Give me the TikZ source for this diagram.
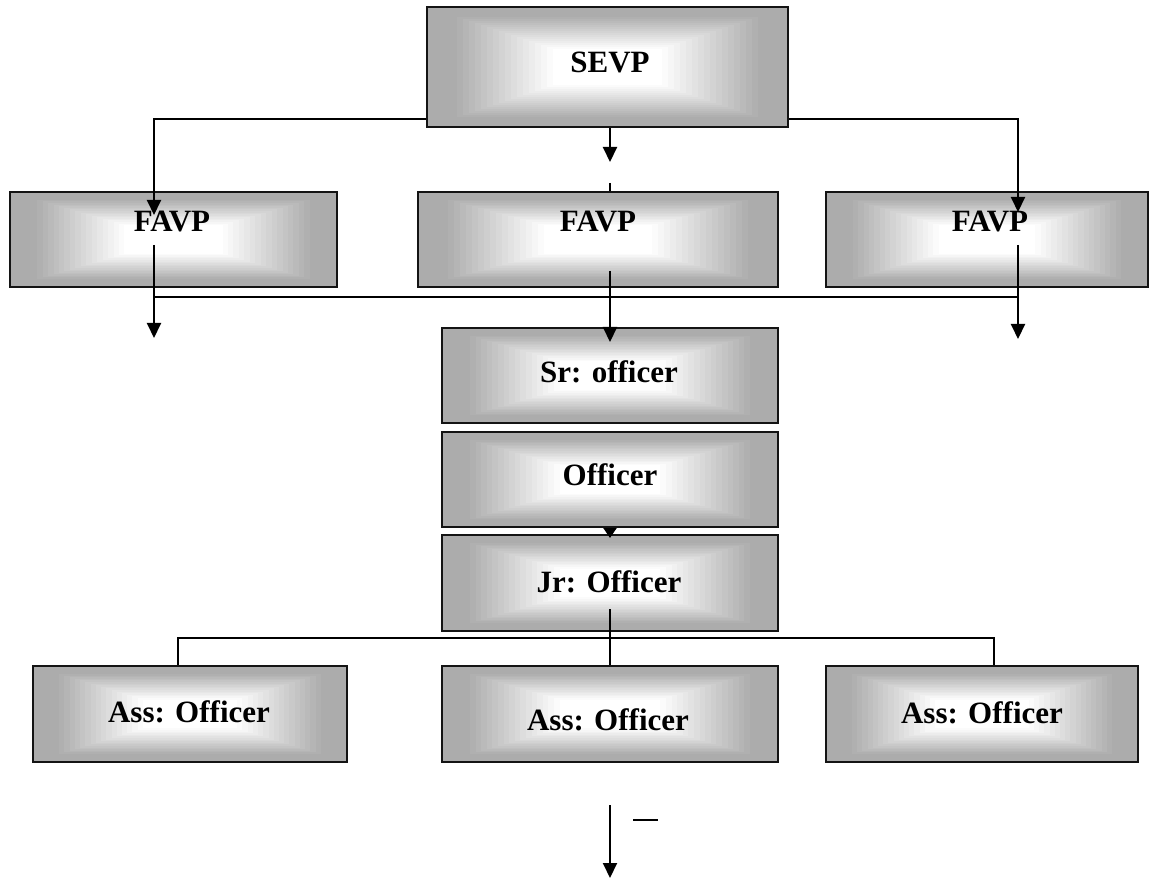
\documentclass[tikz,border=0pt]{standalone}
\usepackage{fontspec}
\setmainfont{Liberation Serif}
\usetikzlibrary{arrows.meta,calc}
\definecolor{boxgray}{RGB}{172,172,172}
\definecolor{edgecol}{RGB}{20,20,20}
\tikzset{
  gbox/.style={draw=edgecol, line width=2.2pt, inner sep=0pt,
    path picture={
      \foreach \i in {0,...,30}{
        \pgfmathsetmacro\t{1-\i/30}
        \pgfmathsetmacro\m{min(100,max(0,(0.86-\t)/0.55*100))}
        \fill[white!\m!boxgray]
          ($(path picture bounding box.center)!\t!(path picture bounding box.north east)$)
          rectangle
          ($(path picture bounding box.center)!\t!(path picture bounding box.south west)$);
      }}},
  lbl/.style={font=\fontsize{31}{35}\selectfont\bfseries, inner sep=0pt, anchor=base},
  ln/.style={line width=2pt, draw=black},
  arr/.style={ln, -{Triangle[length=15pt,width=14pt]}},
  arrsmall/.style={ln, -{Triangle[length=10pt,width=13pt]}},
  dashline/.style={line width=1.2pt, draw=black}
}
\begin{document}
\begin{tikzpicture}[x=1pt,y=-1pt]
\useasboundingbox (0,0) rectangle (1157,893);
% boxes
\node[gbox, minimum width=361pt, minimum height=120pt] (sevp) at (607.5,67) {};
\node[gbox, minimum width=327pt, minimum height=95pt] (favp1) at (173.5,239.5) {};
\node[gbox, minimum width=360pt, minimum height=95pt] (favp2) at (598,239.5) {};
\node[gbox, minimum width=322pt, minimum height=95pt] (favp3) at (987,239.5) {};
\node[gbox, minimum width=336pt, minimum height=95pt] (sr) at (610,375.5) {};
\node[gbox, minimum width=336pt, minimum height=95pt] (off) at (610,479.5) {};
\node[gbox, minimum width=336pt, minimum height=96pt] (jr) at (610,583) {};
\node[gbox, minimum width=314pt, minimum height=96pt] (ass1) at (190,714) {};
\node[gbox, minimum width=336pt, minimum height=96pt] (ass2) at (610,714) {};
\node[gbox, minimum width=312pt, minimum height=96pt] (ass3) at (982,714) {};
% labels
\node[lbl] (sevpT) at (610,73) {SEVP};
\node[lbl] (favp1T) at (172,232) {FAVP};
\node[lbl] (favp2T) at (598,232) {FAVP};
\node[lbl] (favp3T) at (990,232) {FAVP};
\node[lbl] (srT) at (609,382) {Sr: officer};
\node[lbl] (offT) at (610,485) {Officer};
\node[lbl] (jrT) at (609,592) {Jr: Officer};
\node[lbl] (ass1T) at (189,722) {Ass: Officer};
\node[lbl] (ass2T) at (608,730) {Ass: Officer};
\node[lbl] (ass3T) at (982,723) {Ass: Officer};
% coordinates
\coordinate (t1) at (154,215);
\coordinate (t3) at (1018,212);
\coordinate (m1) at (610,162);
\coordinate (m2) at (610,183);
\coordinate (f1s) at (154,245);
\coordinate (f1e) at (154,338);
\coordinate (f2s) at (610,271);
\coordinate (f2e) at (610,342);
\coordinate (f3s) at (1018,245);
\coordinate (f3e) at (1018,339);
\coordinate (h1) at (154,297);
\coordinate (h3) at (1018,297);
\coordinate (oj) at (610,538);
\coordinate (j) at (610,609);
\coordinate (a1) at (178,638);
\coordinate (a3) at (994,638);
\coordinate (b1) at (610,805);
\coordinate (b2) at (610,878);
\coordinate (d1) at (633,820);
\coordinate (d2) at (658,820);
% connectors
\draw[arr] ([yshift=9pt]sevp.south west) -| (t1);
\draw[arr] ([yshift=9pt]sevp.south east) -| (t3);
\draw[arr] (sevp.south -| m1) -- (m1);
\draw[ln] (m2) -- (m2 |- favp2.north);
\draw[arr] (f1s) -- (f1e);
\draw[arr] (f2s) -- (f2e);
\draw[arr] (f3s) -- (f3e);
\draw[ln] (h1) -- (h3);
\draw[arrsmall] (off.south -| oj) -- (oj);
\draw[ln] (j) -- (j |- ass2.north);
\draw[ln] (a1 |- ass1.north) -- (a1) -- (a3) -- (a3 |- ass3.north);
\draw[arr] (b1) -- (b2);
\draw[dashline] (d1) -- (d2);
\end{tikzpicture}
\end{document}
